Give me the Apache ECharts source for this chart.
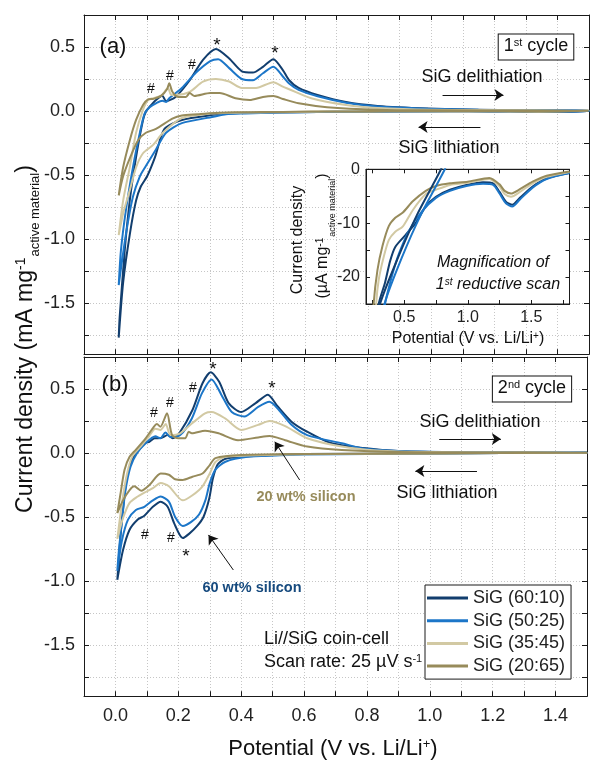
<!DOCTYPE html>
<html>
<head>
<meta charset="utf-8">
<script src="https://cdn.jsdelivr.net/npm/echarts@6/dist/echarts.min.js"></script>
<style>
  html, body { margin: 0; padding: 0; background: #fff; }
  #chart { width: 590px; height: 760px; }
</style>
</head>
<body>
<div id="chart"></div>
<script>
// sample names and line colours
const seriesNames = ['SiG (60:10)', 'SiG (50:25)', 'SiG (35:45)', 'SiG (20:65)'];
const seriesColors = ['#123e6e', '#1c76c8', '#d2c9a3', '#978b5b'];

// axis ticks / labels
const yTickVals = [-1.75, -1.5, -1.25, -1, -0.75, -0.5, -0.25, 0, 0.25, 0.5];
const yLabelVals = [-1.5, -1, -0.5, 0, 0.5];
const insetXTickVals = [0.25, 0.5, 0.75, 1, 1.25, 1.5, 1.75];
const insetXLabelVals = [0.5, 1, 1.5];

// 1st cycle, [potential V, current mA/mg], anodic scan up then cathodic scan down
const cyc1_60 = [[0.01,-1.77],[0.013,-1.61],[0.029,-1.09],[0.045,-0.70],[0.065,-0.36],[0.087,-0.07],[0.097,0.0],[0.108,0.034],[0.128,0.086],[0.148,0.12],[0.16,0.078],[0.19,0.11],[0.235,0.24],[0.277,0.40],[0.318,0.485],[0.36,0.41],[0.40,0.31],[0.435,0.30],[0.467,0.345],[0.50,0.405],[0.53,0.32],[0.55,0.24],[0.58,0.18],[0.64,0.125],[0.73,0.07],[0.83,0.04],[0.99,0.02],[1.15,0.01],[1.5,0.005],
  [1.5,-0.001],[1.35,-0.0066],[1.25,-0.0042],[1.12,-0.0025],[0.99,-0.0029],[0.75,-0.0051],[0.64,-0.0075],[0.49,-0.0122],[0.41,-0.0144],[0.36,-0.0168],[0.31,-0.03],[0.21,-0.07],[0.155,-0.14],[0.125,-0.36],[0.10,-0.51],[0.08,-0.59],[0.065,-0.70],[0.046,-0.95],[0.024,-1.34],[0.01,-1.77]];
const cyc1_50 = [[0.01,-1.36],[0.017,-1.09],[0.033,-0.77],[0.055,-0.44],[0.077,-0.17],[0.092,-0.02],[0.108,0.03],[0.128,0.06],[0.148,0.08],[0.16,0.07],[0.17,0.10],[0.21,0.18],[0.255,0.30],[0.30,0.39],[0.325,0.405],[0.36,0.335],[0.40,0.25],[0.435,0.24],[0.467,0.295],[0.50,0.345],[0.53,0.27],[0.55,0.215],[0.58,0.165],[0.64,0.115],[0.73,0.065],[0.83,0.035],[0.99,0.018],[1.15,0.01],[1.5,0.005],
  [1.5,-0.001],[1.35,-0.0068],[1.25,-0.0042],[1.12,-0.0025],[0.99,-0.003],[0.75,-0.0051],[0.64,-0.0075],[0.54,-0.0113],[0.46,-0.0156],[0.41,-0.0193],[0.35,-0.025],[0.31,-0.045],[0.21,-0.095],[0.16,-0.17],[0.128,-0.30],[0.096,-0.43],[0.077,-0.51],[0.055,-0.67],[0.033,-0.96],[0.01,-1.36]];
const cyc1_35 = [[0.01,-0.97],[0.024,-0.70],[0.045,-0.44],[0.065,-0.17],[0.087,0.01],[0.103,0.086],[0.12,0.10],[0.145,0.12],[0.166,0.18],[0.175,0.13],[0.19,0.125],[0.235,0.15],[0.277,0.23],[0.318,0.25],[0.36,0.23],[0.40,0.18],[0.445,0.18],[0.50,0.225],[0.53,0.19],[0.55,0.17],[0.62,0.10],[0.73,0.047],[0.83,0.023],[1.0,0.01],[1.5,0.004],
  [1.5,-0.001],[1.34,-0.0051],[1.25,-0.003],[1.17,-0.0017],[1.0,-0.0025],[0.86,-0.0029],[0.75,-0.0038],[0.67,-0.0046],[0.57,-0.0075],[0.49,-0.0106],[0.43,-0.0116],[0.38,-0.0131],[0.34,-0.0162],[0.30,-0.0205],[0.21,-0.055],[0.15,-0.17],[0.119,-0.265],[0.087,-0.33],[0.065,-0.44],[0.045,-0.62],[0.024,-0.80],[0.01,-0.97]];
const cyc1_20 = [[0.01,-0.66],[0.024,-0.44],[0.045,-0.23],[0.065,-0.07],[0.087,0.047],[0.103,0.09],[0.12,0.095],[0.145,0.12],[0.163,0.17],[0.17,0.216],[0.18,0.15],[0.198,0.11],[0.223,0.11],[0.235,0.14],[0.25,0.117],[0.30,0.14],[0.33,0.14],[0.38,0.10],[0.425,0.086],[0.467,0.11],[0.50,0.117],[0.53,0.094],[0.58,0.06],[0.67,0.03],[0.83,0.01],[1.0,0.005],[1.5,0.002],
  [1.5,-0.001],[1.34,-0.0045],[1.25,-0.0028],[1.17,-0.0017],[1.0,-0.0025],[0.86,-0.0029],[0.75,-0.0035],[0.67,-0.004],[0.57,-0.0059],[0.49,-0.008],[0.43,-0.009],[0.38,-0.0105],[0.33,-0.0142],[0.29,-0.0187],[0.26,-0.025],[0.21,-0.035],[0.18,-0.06],[0.128,-0.14],[0.096,-0.17],[0.071,-0.23],[0.045,-0.37],[0.024,-0.51],[0.01,-0.66]];

// 2nd cycle
const cyc2_60 = [[0.006,-0.99],[0.016,-0.65],[0.027,-0.37],[0.037,-0.185],[0.053,-0.055],[0.074,0.023],[0.096,0.08],[0.108,0.088],[0.124,0.115],[0.145,0.117],[0.166,0.14],[0.182,0.115],[0.203,0.154],[0.245,0.336],[0.277,0.545],[0.303,0.63],[0.33,0.557],[0.36,0.39],[0.40,0.32],[0.446,0.39],[0.485,0.455],[0.514,0.37],[0.56,0.245],[0.61,0.166],[0.685,0.078],[0.79,0.039],[0.90,0.016],[1.1,0.006],[1.5,0.003],
  [1.5,-0.001],[1.0,-0.003],[0.6,-0.008],[0.51,-0.016],[0.40,-0.03],[0.35,-0.045],[0.325,-0.09],[0.31,-0.20],[0.298,-0.36],[0.28,-0.50],[0.26,-0.57],[0.235,-0.63],[0.214,-0.665],[0.187,-0.55],[0.166,-0.42],[0.144,-0.38],[0.119,-0.42],[0.092,-0.49],[0.071,-0.52],[0.045,-0.60],[0.024,-0.76],[0.006,-0.99]];
const cyc2_50 = [[0.006,-0.92],[0.011,-0.76],[0.022,-0.50],[0.032,-0.29],[0.048,-0.107],[0.069,0.0],[0.096,0.076],[0.127,0.13],[0.143,0.115],[0.159,0.16],[0.175,0.125],[0.206,0.14],[0.243,0.27],[0.275,0.466],[0.306,0.575],[0.338,0.45],[0.37,0.32],[0.41,0.285],[0.454,0.36],[0.49,0.40],[0.52,0.336],[0.56,0.22],[0.61,0.14],[0.72,0.076],[0.79,0.035],[0.90,0.015],[1.1,0.005],[1.5,0.003],
  [1.5,-0.001],[1.0,-0.004],[0.6,-0.012],[0.51,-0.02],[0.42,-0.03],[0.35,-0.068],[0.318,-0.13],[0.30,-0.235],[0.286,-0.37],[0.266,-0.48],[0.24,-0.54],[0.214,-0.57],[0.19,-0.50],[0.17,-0.38],[0.144,-0.34],[0.119,-0.37],[0.092,-0.42],[0.065,-0.445],[0.04,-0.52],[0.021,-0.68],[0.006,-0.92]];
const cyc2_35 = [[0.006,-0.67],[0.022,-0.37],[0.037,-0.16],[0.053,-0.03],[0.08,0.05],[0.106,0.127],[0.127,0.19],[0.143,0.18],[0.16,0.226],[0.175,0.14],[0.206,0.154],[0.243,0.23],[0.285,0.31],[0.306,0.32],[0.349,0.27],[0.40,0.18],[0.454,0.22],[0.49,0.25],[0.54,0.21],[0.61,0.115],[0.72,0.05],[0.83,0.02],[1.0,0.008],[1.5,0.002],
  [1.5,-0.001],[1.0,-0.003],[0.6,-0.01],[0.42,-0.02],[0.35,-0.03],[0.318,-0.07],[0.30,-0.16],[0.277,-0.26],[0.245,-0.33],[0.214,-0.37],[0.17,-0.26],[0.144,-0.235],[0.119,-0.275],[0.092,-0.31],[0.071,-0.34],[0.045,-0.39],[0.024,-0.51],[0.006,-0.67]];
const cyc2_20 = [[0.006,-0.47],[0.018,-0.29],[0.029,-0.13],[0.045,-0.03],[0.064,0.023],[0.096,0.115],[0.122,0.205],[0.132,0.226],[0.143,0.205],[0.164,0.31],[0.18,0.14],[0.20,0.115],[0.222,0.115],[0.233,0.166],[0.243,0.154],[0.285,0.174],[0.328,0.154],[0.39,0.10],[0.454,0.122],[0.49,0.133],[0.54,0.10],[0.61,0.05],[0.72,0.023],[0.9,0.008],[1.5,0.002],
  [1.5,-0.001],[1.0,-0.003],[0.6,-0.008],[0.40,-0.016],[0.318,-0.04],[0.30,-0.094],[0.277,-0.16],[0.245,-0.185],[0.214,-0.21],[0.19,-0.205],[0.17,-0.17],[0.144,-0.16],[0.108,-0.25],[0.082,-0.295],[0.06,-0.26],[0.045,-0.29],[0.024,-0.37],[0.006,-0.47]];

// inset: 1st reductive scan, [potential V, current uA/mg]
const inset_60 = [[1.8,-0.7],[1.62,-1.7],[1.51,-3.2],[1.41,-5.3],[1.35,-6.6],[1.30,-6.0],[1.25,-4.2],[1.20,-2.6],[1.12,-2.4],[0.99,-2.9],[0.86,-3.8],[0.75,-5.1],[0.67,-6.9],[0.59,-10.0],[0.51,-12.2],[0.43,-14.4],[0.39,-17.0],[0.35,-21],[0.30,-25],[0.29,-30]];
const inset_50 = [[1.8,-0.7],[1.62,-1.8],[1.51,-3.4],[1.41,-5.6],[1.35,-6.9],[1.30,-6.3],[1.25,-4.5],[1.20,-2.9],[1.12,-2.7],[0.99,-3.1],[0.86,-4.0],[0.75,-5.3],[0.64,-7.8],[0.54,-11.3],[0.46,-15.6],[0.41,-19.3],[0.35,-25],[0.34,-30]];
const inset_35 = [[1.8,-0.5],[1.62,-1.4],[1.51,-2.6],[1.41,-4.2],[1.34,-5.1],[1.29,-4.6],[1.25,-3.2],[1.17,-1.8],[1.0,-2.5],[0.86,-2.9],[0.75,-3.8],[0.67,-4.6],[0.57,-7.5],[0.49,-10.6],[0.43,-11.6],[0.38,-13.1],[0.34,-16.2],[0.30,-20.5],[0.28,-25],[0.275,-30]];
const inset_20 = [[1.8,-0.4],[1.62,-1.2],[1.51,-2.3],[1.41,-3.7],[1.34,-4.5],[1.29,-4.0],[1.25,-2.8],[1.17,-1.6],[1.0,-2.3],[0.86,-2.6],[0.75,-3.1],[0.67,-4.0],[0.57,-5.9],[0.49,-8.0],[0.43,-9.0],[0.38,-10.5],[0.33,-14.2],[0.29,-18.7],[0.26,-25],[0.255,-30]];
const insetSteep_60 = [[0.30,-28],[0.31,-25],[0.45,-16.5],[0.60,-8.5],[0.79,0],[0.80,1]];
const insetSteep_50 = [[0.335,-28],[0.345,-25],[0.48,-16.5],[0.63,-8.5],[0.82,0],[0.83,1]];

const FONT = '"Liberation Sans", Arial, Helvetica, sans-serif';
const INK = '#1a1a1a';
const gridLine = { lineStyle: { color: '#c6c6c6', type: [1, 2], width: 1 } };

function mainX(gi, pos, labels) {
  return {
    type: 'value', gridIndex: gi, position: pos, min: -0.1, max: 1.5, interval: 0.1,
    axisLine: { show: true, onZero: false, lineStyle: { color: INK, width: 1 } },
    axisTick: { show: true, inside: true, length: 5, lineStyle: { color: INK } },
    axisLabel: {
      show: labels, margin: 11, fontSize: 18, fontFamily: FONT, color: '#222',
      formatter: v => { const r = Math.round(v * 10); return r % 2 === 0 ? (r / 10).toFixed(1) : ''; }
    },
    splitLine: Object.assign({ show: pos === 'bottom' }, gridLine)
  };
}
function mainY(gi, pos) {
  return {
    type: 'value', gridIndex: gi, position: pos, min: -1.9, max: 0.75,
    axisLine: { show: true, onZero: false, lineStyle: { color: INK, width: 1 } },
    axisTick: { show: true, inside: true, length: 5, customValues: yTickVals, lineStyle: { color: INK } },
    axisLabel: {
      show: pos === 'left', customValues: yLabelVals, margin: 9, fontSize: 18, fontFamily: FONT, color: '#222',
      formatter: v => v.toFixed(1)
    },
    splitLine: Object.assign({ show: pos === 'left' }, gridLine)
  };
}
function insetX(pos) {
  return {
    type: 'value', gridIndex: 2, position: pos, min: 0.2, max: 1.8, z: 6,
    axisLine: { show: true, onZero: false, lineStyle: { color: INK } },
    axisTick: { inside: true, length: 4, customValues: insetXTickVals, lineStyle: { color: INK } },
    axisLabel: { show: pos === 'bottom', customValues: insetXLabelVals, margin: 6, fontSize: 16, fontFamily: FONT, color: '#222', formatter: v => v.toFixed(1) },
    splitLine: { show: false }
  };
}
function insetY(pos) {
  return {
    type: 'value', gridIndex: 2, position: pos, min: -25, max: 0, interval: 5, z: 6,
    axisLine: { show: true, onZero: false, lineStyle: { color: INK } },
    axisTick: { inside: true, length: 4, lineStyle: { color: INK } },
    axisLabel: { show: pos === 'left', margin: 6, fontSize: 16, fontFamily: FONT, color: '#222', formatter: v => (v % 10 === 0 ? String(v) : '') },
    splitLine: { show: false }
  };
}

function line(name, data, xi, yi, color, z) {
  return {
    type: 'line', name: name, data: data, xAxisIndex: xi, yAxisIndex: yi,
    symbol: 'none', showSymbol: false, smooth: 0.25, clip: true, z: z,
    lineStyle: { width: 2, color: color }, itemStyle: { color: color },
    emphasis: { disabled: true }, animation: false
  };
}

const arrowStyle = { silent: true, symbol: ['none', 'arrow'], symbolSize: 9, label: { show: false },
  lineStyle: { color: '#111', width: 1, type: 'solid' }, emphasis: { disabled: true }, animation: false };

const cyc1 = [cyc1_60, cyc1_50, cyc1_35, cyc1_20];
const cyc2 = [cyc2_60, cyc2_50, cyc2_35, cyc2_20];
const insets = [inset_60, inset_50, inset_35, inset_20];

const series = [];
cyc1.forEach((d, i) => series.push(line(seriesNames[i], d, 0, 0, seriesColors[i], 2)));
cyc2.forEach((d, i) => series.push(line(seriesNames[i], d, 2, 2, seriesColors[i], 2)));
insets.forEach((d, i) => series.push(line(seriesNames[i], d, 4, 4, seriesColors[i], 7)));
series.push(line(seriesNames[0], insetSteep_60, 4, 4, seriesColors[0], 7));
series.push(line(seriesNames[1], insetSteep_50, 4, 4, seriesColors[1], 7));

// direction arrows
series[0].markLine = Object.assign({ data: [
  [{ coord: [1.036, 0.125] }, { coord: [1.229, 0.125] }],
  [{ coord: [1.156, -0.125] }, { coord: [0.96, -0.125] }]
] }, arrowStyle);
series[4].markLine = Object.assign({ data: [
  [{ coord: [1.03, 0.109] }, { coord: [1.226, 0.109] }],
  [{ coord: [1.15, -0.14] }, { coord: [0.954, -0.14] }],
  [{ coord: [0.586, -0.211] }, { coord: [0.507, 0.088] }],
  [{ coord: [0.375, -0.914] }, { coord: [0.296, -0.64] }]
] }, arrowStyle);

function txt(x, y, text, size, opt) {
  return {
    type: 'text', x: x, y: y, z: 20, silent: true, rotation: (opt && opt.rot) || 0,
    style: Object.assign({ text: text, fontSize: size, fontFamily: FONT, fill: '#111', align: 'center', verticalAlign: 'middle' }, (opt && opt.style) || {})
  };
}
const supRich = (size, sub, drop) => ({
  m: { fontSize: size, fontFamily: FONT, fill: '#111', lineHeight: size + 2, verticalAlign: 'top' },
  s: { fontSize: Math.round(size * 0.6), fontFamily: FONT, fill: '#111', lineHeight: Math.round(size * 0.6), verticalAlign: 'top' },
  b: { fontSize: sub || Math.round(size * 0.58), fontFamily: FONT, fill: '#111', lineHeight: sub || Math.round(size * 0.58), verticalAlign: 'top', padding: [drop || Math.round(size * 0.8), 0, 0, 1] }
});

const graphics = [
  txt(113, 47, '(a)', 22),
  txt(115, 385, '(b)', 22),
  txt(536, 47, '{m|1}{s|st}{m| cycle}', 18, { style: { rich: supRich(18), borderColor: '#111', borderWidth: 1, padding: [3, 5, 2, 5], backgroundColor: '#fff' } }),
  txt(532, 389, '{m|2}{s|nd}{m| cycle}', 18, { style: { rich: supRich(18), borderColor: '#111', borderWidth: 1, padding: [3, 5, 2, 5], backgroundColor: '#fff' } }),
  txt(482, 77, 'SiG delithiation', 18),
  txt(449, 148, 'SiG lithiation', 18),
  txt(480, 422, 'SiG delithiation', 18),
  txt(447, 493, 'SiG lithiation', 18),
  // peak marks, cycle 1
  txt(217, 46, '*', 19), txt(275, 54, '*', 19),
  txt(151, 89, '#', 14), txt(170, 76, '#', 14), txt(192, 65, '#', 14),
  // peak marks, cycle 2
  txt(213, 370, '*', 19), txt(272, 389, '*', 19),
  txt(154, 413, '#', 14), txt(170, 403, '#', 14), txt(193, 388, '#', 14),
  txt(145, 535, '#', 14), txt(171, 538, '#', 14), txt(186, 557, '*', 19),
  txt(306, 497, '20 wt% silicon', 14.5, { style: { fontWeight: 'bold', fill: '#978b5b' } }),
  txt(252, 588, '60 wt% silicon', 14.5, { style: { fontWeight: 'bold', fill: '#164a7e' } }),
  txt(264, 639, 'Li//SiG coin-cell', 18, { style: { align: 'left' } }),
  txt(264, 663, '{m|Scan rate: 25 µV s}{s|-1}', 18, { style: { align: 'left', rich: supRich(18) } }),
  // inset texts
  txt(493, 263, 'Magnification of', 16, { style: { fontStyle: 'italic' } }),
  txt(498, 286, '{m|1}{s|st}{m| reductive scan}', 16, { style: { rich: (() => { const r = supRich(16); r.m.fontStyle = 'italic'; r.s.fontStyle = 'italic'; return r; })() } }),
  txt(468, 340, '{m|Potential (V vs. Li/Li}{s|+}{m|)}', 16, { style: { rich: supRich(16) } }),
  txt(298, 240, 'Current density', 16, { rot: Math.PI / 2 }),
  txt(324, 236, '{m|(µA mg}{s|-1}{b|active material}{m|)}', 16, { rot: Math.PI / 2, style: { rich: supRich(16, 9) } }),
  // main axis names
  txt(333, 750, '{m|Potential (V vs. Li/Li}{s|+}{m|)}', 22, { style: { rich: supRich(22) } }),
  txt(27, 339, '{m|Current density (mA mg}{s|-1}{b|active material}{m|)}', 23, { rot: Math.PI / 2, style: { rich: supRich(23, 13, 14) } })
];

const option = {
  backgroundColor: '#fff',
  animation: false,
  grid: [
    { left: 84, top: 15, width: 505, height: 339.2, show: false },
    { left: 84, top: 357, width: 505, height: 339.2, show: false },
    { left: 366, top: 169.3, width: 203.5, height: 134.7, show: true, backgroundColor: '#fff', borderColor: INK, borderWidth: 1, z: 5 }
  ],
  xAxis: [mainX(0, 'bottom', false), mainX(0, 'top', false), mainX(1, 'bottom', true), mainX(1, 'top', false), insetX('bottom'), insetX('top')],
  yAxis: [mainY(0, 'left'), mainY(0, 'right'), mainY(1, 'left'), mainY(1, 'right'), insetY('left'), insetY('right')],
  legend: {
    data: seriesNames, orient: 'vertical', left: 425, top: 585, padding: [4, 6, 4, 2],
    itemGap: 4.7, itemWidth: 41, itemHeight: 3, icon: 'rect', selectedMode: false,
    borderColor: INK, borderWidth: 1, backgroundColor: '#fff', z: 10,
    textStyle: { fontSize: 18, fontFamily: FONT, color: '#222', lineHeight: 18 }
  },
  series: series,
  graphic: graphics
};

const chart = echarts.init(document.getElementById('chart'));
chart.setOption(option);
</script>
</body>
</html>
